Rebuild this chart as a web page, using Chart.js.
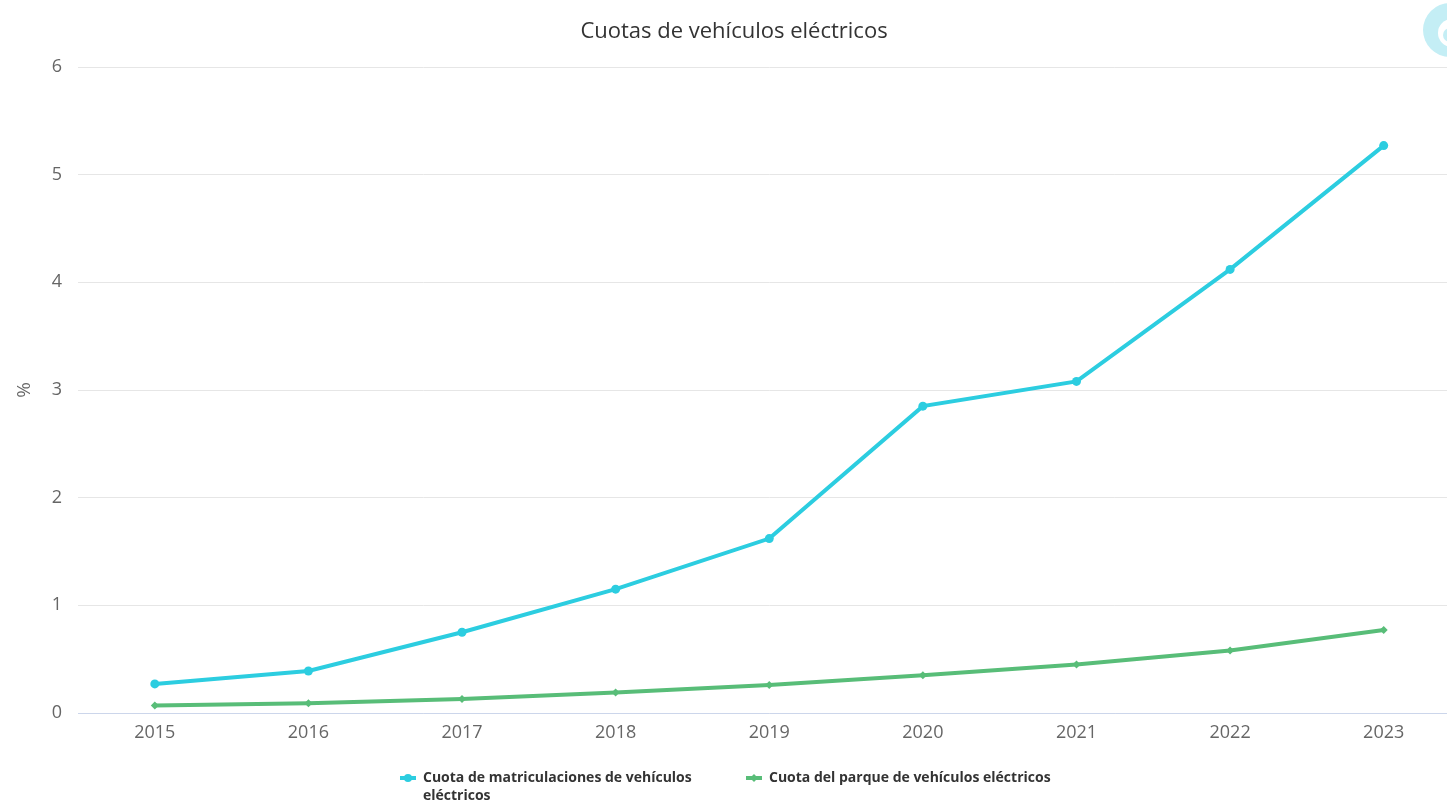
<!DOCTYPE html>
<html>
<head>
<meta charset="utf-8">
<script src="https://cdn.jsdelivr.net/npm/chart.js@4/dist/chart.umd.min.js"></script>
<style>
  html, body { margin: 0; padding: 0; background: #fff; overflow: hidden; }
  #wrap { width: 1465px; height: 803px; }
</style>
</head>
<body>
<div id="wrap"><canvas id="grafico" width="1465" height="803"></canvas></div>
<script>
// datos
const anos = ["2015", "2016", "2017", "2018", "2019", "2020", "2021", "2022", "2023"];
const cuotaMatriculaciones = [0.27, 0.39, 0.75, 1.15, 1.62, 2.85, 3.08, 4.12, 5.27];
const cuotaParque = [0.07, 0.09, 0.13, 0.19, 0.26, 0.35, 0.45, 0.58, 0.77];
const ticksY = [0, 1, 2, 3, 4, 5, 6];

const titulo = "Cuotas de vehículos eléctricos";
const etiquetas = [
  ["Cuota de matriculaciones de vehículos", "eléctricos"],
  ["Cuota del parque de vehículos eléctricos"]
];

const cian = "#2ccde0";
const verde = "#58bd78";

/* --- título, leyenda y logo dibujados a mano --- */
const extras = {
  id: "extras",
  afterDraw(chart) {
    const ctx = chart.ctx;
    ctx.save();

    // logo (recortado por el borde)
    ctx.fillStyle = "#c4eef5";
    ctx.beginPath();
    ctx.arc(1450, 30, 27, 0, Math.PI * 2);
    ctx.fill();
    ctx.fillStyle = "#ffffff";
    ctx.beginPath();
    ctx.arc(1452, 33, 14, 0, Math.PI * 2);
    ctx.fill();
    ctx.fillStyle = "#c4eef5";
    ctx.beginPath();
    ctx.arc(1450, 35, 7, 0, Math.PI * 2);
    ctx.fill();

    // título
    ctx.fillStyle = "#333333";
    ctx.font = "22px 'Open Sans', sans-serif";
    ctx.textAlign = "center";
    ctx.textBaseline = "middle";
    ctx.fillText(titulo, 734, 32);

    // leyenda
    const items = [
      { x: 400, texto: etiquetas[0], color: cian, forma: "circle" },
      { x: 746, texto: etiquetas[1], color: verde, forma: "rectRot" }
    ];
    ctx.font = "bold 14px 'Liberation Sans Narrow', 'Open Sans', sans-serif";
    ctx.textAlign = "left";
    items.forEach(it => {
      const y = 778;
      ctx.strokeStyle = it.color;
      ctx.lineWidth = 4;
      ctx.beginPath();
      ctx.moveTo(it.x, y);
      ctx.lineTo(it.x + 16, y);
      ctx.stroke();
      ctx.fillStyle = it.color;
      Chart.helpers.drawPoint(ctx, { pointStyle: it.forma, radius: 4, borderWidth: 0 }, it.x + 8, y);
      ctx.fillStyle = "#333333";
      it.texto.forEach((linea, i) => ctx.fillText(linea, it.x + 23, y + i * 18));
    });

    ctx.restore();
  }
};

const ctx = document.getElementById("grafico").getContext("2d");

new Chart(ctx, {
  type: "line",
  data: {
    labels: anos,
    datasets: [
      {
        label: etiquetas[0].join(" "),
        data: cuotaMatriculaciones,
        borderColor: cian,
        backgroundColor: cian,
        borderWidth: 4,
        pointStyle: "circle",
        pointRadius: 4.5,
        pointBorderWidth: 0,
        tension: 0
      },
      {
        label: etiquetas[1].join(" "),
        data: cuotaParque,
        borderColor: verde,
        backgroundColor: verde,
        borderWidth: 4,
        pointStyle: "rectRot",
        pointRadius: 4,
        pointBorderWidth: 0,
        tension: 0
      }
    ]
  },
  options: {
    responsive: false,
    animation: false,
    devicePixelRatio: 1,
    layout: { padding: { top: 67, bottom: 52, left: 0, right: 0 } },
    plugins: {
      legend: { display: false },
      title: { display: false },
      tooltip: { enabled: false }
    },
    scales: {
      x: {
        offset: true,
        grid: { display: false, drawTicks: false },
        border: { color: "#ccd6eb", width: 1 },
        ticks: { color: "#666666", font: { size: 18, family: "'Open Sans', sans-serif" }, padding: 9 },
        afterFit: s => { s.height = 38; }
      },
      y: {
        min: 0,
        max: 6,
        afterBuildTicks: s => { s.ticks = ticksY.map(v => ({ value: v })); },
        grid: { color: "#e6e6e6", drawTicks: false },
        border: { display: false },
        ticks: { color: "#666666", font: { size: 18, family: "'Open Sans', sans-serif" }, padding: 16 },
        title: { display: true, text: "%", color: "#666666", font: { size: 19, family: "'Open Sans', sans-serif" }, padding: { top: 13, bottom: 0 } },
        afterFit: s => { s.width = 78; }
      }
    }
  },
  plugins: [extras]
});
</script>
</body>
</html>
